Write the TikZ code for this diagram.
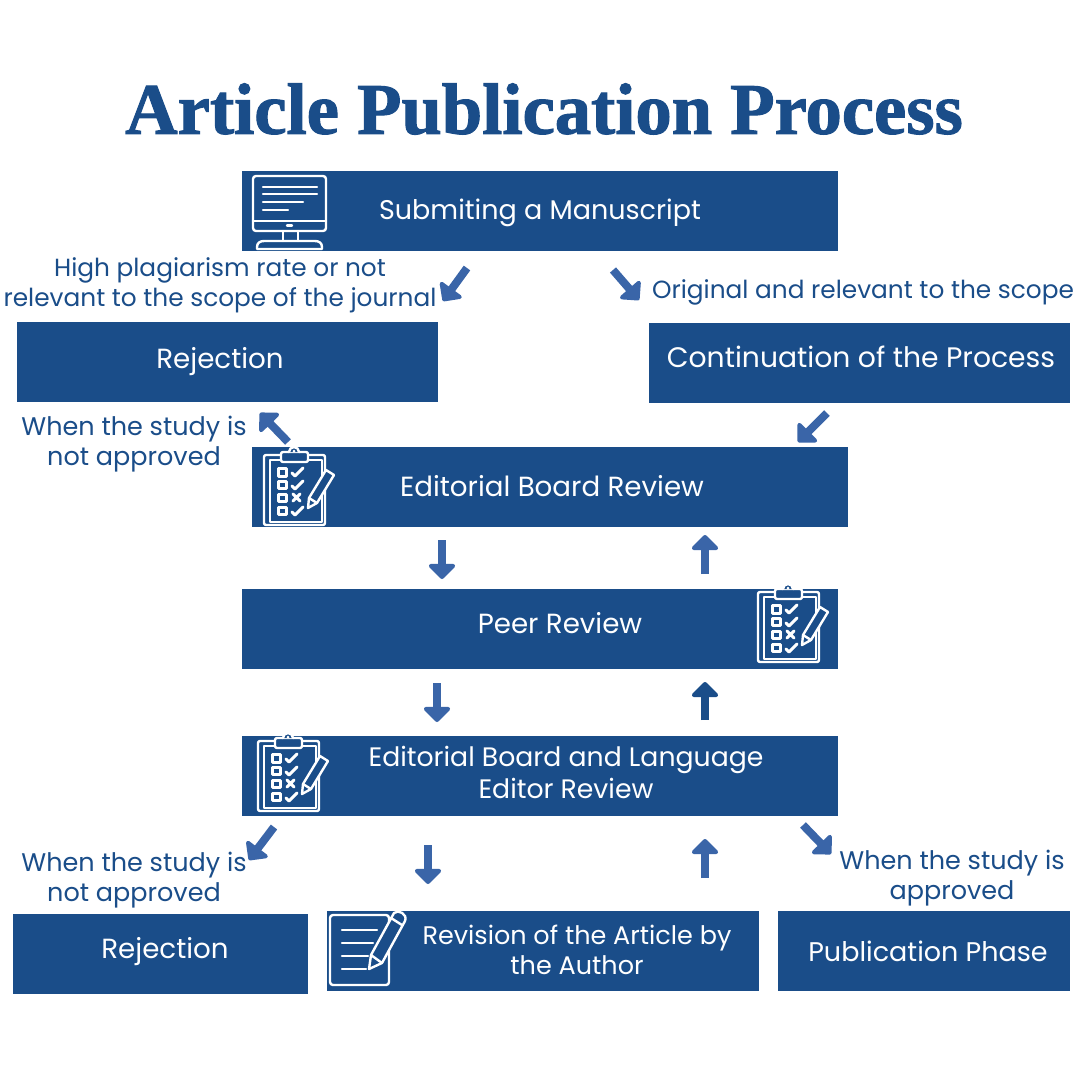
\documentclass[tikz,border=0pt]{standalone}
\usepackage{fontspec}
\setmainfont{Poppins}
\usetikzlibrary{arrows.meta}
\definecolor{boxblue}{HTML}{1A4D89}
\definecolor{arrowblue}{HTML}{3A65A8}
\newfontfamily\titlefont[BoldFeatures={FakeBold=1.5}]{Liberation Serif}
\tikzset{
  box/.style={fill=boxblue,inner sep=0pt,minimum height=80pt},
  boxtext/.style={text=white,font=\fontsize{27}{32}\selectfont,align=center,inner sep=0pt},
  bigtext/.style={boxtext,font=\fontsize{27.7}{32}\selectfont},
  smalltext/.style={boxtext,font=\fontsize{25.5}{30}\selectfont},
  note/.style={text=boxblue,font=\fontsize{25.5}{30}\selectfont,align=center,inner sep=0pt},
  smallnote/.style={note,font=\fontsize{24.8}{30}\selectfont},
  arrow/.style={draw=arrowblue,line width=8pt,-{Triangle[length=16pt,width=31pt,round]}},
  icon/.style={draw=white,line width=2.4pt,line join=round,line cap=round},
  heavyicon/.style={icon,line width=3pt},
  pics/clipboard/.style={code={
    \draw[icon,rounded corners=2pt] (0,0) rectangle (61,70);
    \draw[icon] (6,5) rectangle (58,67);
    \draw[icon,fill=boxblue,rounded corners=2pt] (17,-3) rectangle (44,7);
    \draw[icon,fill=boxblue] (25,-3) arc(180:360:5);
    \fill[white] (30,-4) circle (1.5);
    \draw[heavyicon] (14,13) rectangle (22,21);
    \draw[heavyicon] (14,26) rectangle (22,33);
    \draw[heavyicon] (14,39) rectangle (22,46);
    \draw[heavyicon] (14,52) rectangle (22,59);
    \draw[heavyicon] (28,18) -- (31,21) -- (39,13);
    \draw[heavyicon] (28,31) -- (31,34) -- (39,26);
    \draw[heavyicon] (29,39) -- (36,46) (36,39) -- (29,46);
    \draw[heavyicon] (28,57) -- (31,60) -- (39,52);
    \draw[icon,fill=boxblue] (44,53) -- (45,43) -- (62,15) -- (70,20) -- (53,48) -- cycle;
    \draw[icon] (45,43) -- (53,48);
  }}
}
\begin{document}
\begin{tikzpicture}[x=1pt,y=-1pt]
\useasboundingbox (0,0) rectangle (1080,1080);
\fill[white] (0,0) rectangle (1080,1080);
\node[text=boxblue,inner sep=0pt] (title) at (544,109) {\titlefont\bfseries\fontsize{72.6}{80}\selectfont Article Publication Process};
% boxes
\node[box,minimum width=596pt] (submit) at (540,211) {};
\node[box,minimum width=421pt] (rejectA) at (227.5,362) {};
\node[box,minimum width=421pt] (continue) at (859.5,363) {};
\node[box,minimum width=596pt] (board) at (550,487) {};
\node[box,minimum width=596pt] (peer) at (540,629) {};
\node[box,minimum width=596pt] (language) at (540,776) {};
\node[box,minimum width=295pt] (rejectB) at (160.5,954) {};
\node[box,minimum width=432pt] (revision) at (543,951) {};
\node[box,minimum width=292pt] (publish) at (924,951) {};
% box texts
\node[boxtext] (submittext) at (540,213) {Submiting a Manuscript};
\node[bigtext] (rejectAtext) at (220,362) {Rejection};
\node[boxtext,font=\fontsize{28.2}{32}\selectfont] (continuetext) at (861,357) {Continuation of the Process};
\node[bigtext] (boardtext) at (552,486) {Editorial Board Review};
\node[bigtext] (peertext) at (560,623) {Peer Review};
\node[boxtext,font=\fontsize{26.7}{32}\selectfont] (languagetext) at (566,772) {Editorial Board and Language\\Editor Review};
\node[bigtext] (rejectBtext) at (165,952) {Rejection};
\node[smalltext] (revisiontext) at (577,950) {Revision of the Article by\\the Author};
\node[boxtext] (publishtext) at (928,951) {Publication Phase};
% side notes
\node[smallnote] (plagiarism) at (220,285) {High plagiarism rate or not\\relevant to the scope of the journal};
\node[smallnote] (original) at (863,292) {Original and relevant to the scope};
\node[note] (notapprovedA) at (134,444) {When the study is\\not approved};
\node[note] (notapprovedB) at (134,880) {When the study is\\not approved};
\node[note] (approved) at (952,878) {When the study is\\approved};
% arrow ends
\coordinate (a1) at (467,268); \coordinate (b1) at (443,301);
\coordinate (a2) at (613,270); \coordinate (b2) at (639,300);
\coordinate (a3) at (288,442); \coordinate (b3) at (260,413);
\coordinate (a4) at (827,413); \coordinate (b4) at (798,442);
\coordinate (a5) at (442,540); \coordinate (b5) at (442,579);
\coordinate (a6) at (705,574); \coordinate (b6) at (705,535);
\coordinate (a7) at (437,683); \coordinate (b7) at (437,722);
\coordinate (a8) at (705,720); \coordinate (b8) at (705,682);
\coordinate (a9) at (274,827); \coordinate (b9) at (249,860);
\coordinate (a10) at (428,845); \coordinate (b10) at (428,884);
\coordinate (a11) at (705,878); \coordinate (b11) at (705,839);
\coordinate (a12) at (803,825); \coordinate (b12) at (831,854);
\foreach \n in {1,2,3,4,5,6,7,9,10,11,12} \draw[arrow] (a\n) -- (b\n);
\draw[arrow,draw=boxblue] (a8) -- (b8);
% clipboards
\pic at (264,455) {clipboard};
\pic at (758,592) {clipboard};
\pic at (258,741) {clipboard};
% monitor
\draw[icon,rounded corners=3pt] (253,176) rectangle (326,231);
\draw[icon] (253,221) -- (326,221);
\draw[icon] (263,187) -- (317,187) (263,194) -- (317,194) (263,202) -- (303,202) (263,210) -- (288,210);
\draw[icon] (287,225.5) -- (292,225.5);
\draw[icon] (283,231) -- (283,241) (298,231) -- (298,241);
\draw[icon] (257,249) -- (257,247) .. controls (257,243) and (260,241) .. (264,241) -- (315,241) .. controls (319,241) and (322,243) .. (322,247) -- (322,249) -- cycle;
% notepad
\draw[icon,rounded corners=3pt] (330,915) rectangle (389,985);
\draw[icon] (342,930) -- (377,930) (342,943) -- (373,943) (342,956) -- (368,956) (342,969) -- (366,969);
\draw[icon,fill=boxblue] (369,969) -- (371,955) -- (394,913) .. controls (398,909) and (408,914) .. (405,921) -- (382,963) -- cycle;
\draw[icon] (371,955) -- (382,963) (391,918) -- (402,925);
\end{tikzpicture}
\end{document}
